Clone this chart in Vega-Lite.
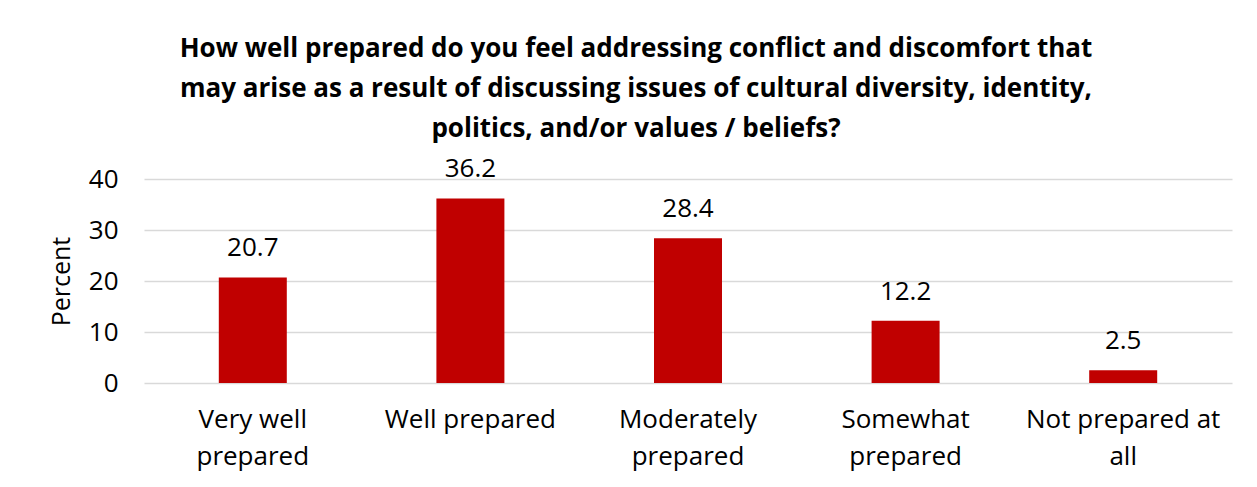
{
  "$schema": "https://vega.github.io/schema/vega-lite/v6.json",
  "width": 1088,
  "height": 204,
  "autosize": {"type": "none"},
  "padding": {"left": 144, "top": 179, "right": 25, "bottom": 104},
  "background": "white",
  "title": {
    "text": ["How well prepared do you feel addressing conflict and discomfort that", "may arise as a result of discussing issues of cultural diversity, identity,", "politics, and/or values / beliefs?"],
    "font": "Open Sans",
    "fontSize": 26,
    "fontWeight": "bold",
    "color": "#000000",
    "lineHeight": 40,
    "anchor": "middle",
    "dx": -52,
    "offset": 14
  },
  "config": {
    "view": {"stroke": null},
    "font": "Open Sans"
  },
  "data": {
    "values": [
      {"category": "Very well prepared", "percent": 20.7},
      {"category": "Well prepared", "percent": 36.2},
      {"category": "Moderately prepared", "percent": 28.4},
      {"category": "Somewhat prepared", "percent": 12.2},
      {"category": "Not prepared at all", "percent": 2.5}
    ]
  },
  "encoding": {
    "x": {
      "field": "category",
      "type": "nominal",
      "sort": null,
      "scale": {"paddingInner": 0.6875, "paddingOuter": 0.34375},
      "axis": {
        "title": null,
        "labelExpr": "datum.value == 'Very well prepared' ? ['Very well','prepared'] : datum.value == 'Moderately prepared' ? ['Moderately','prepared'] : datum.value == 'Somewhat prepared' ? ['Somewhat','prepared'] : datum.value == 'Not prepared at all' ? ['Not prepared at','all'] : datum.value",
        "labelAngle": 0,
        "labelFontSize": 26,
        "labelColor": "#000000",
        "labelLineHeight": 37,
        "labelPadding": 23,
        "labelBaseline": "top",
        "labelLimit": 0,
        "labelOverlap": false,
        "ticks": false,
        "domain": false,
        "grid": false
      }
    },
    "y": {
      "field": "percent",
      "type": "quantitative",
      "scale": {"domain": [0, 40]},
      "axis": {
        "title": "Percent",
        "titleFontSize": 25,
        "titleFontWeight": "normal",
        "titleColor": "#000000",
        "titlePadding": 14,
        "values": [0, 10, 20, 30, 40],
        "labelFontSize": 26,
        "labelColor": "#000000",
        "labelPadding": 26,
        "ticks": false,
        "domain": false,
        "grid": true,
        "gridColor": "#d9d9d9",
        "gridWidth": 1.5
      }
    }
  },
  "layer": [
    {"mark": {"type": "bar", "color": "#C00000"}},
    {
      "mark": {"type": "text", "baseline": "middle", "dy": -29, "fontSize": 26, "color": "#000000"},
      "encoding": {"text": {"field": "percent", "type": "quantitative", "format": ".1f"}}
    }
  ]
}
